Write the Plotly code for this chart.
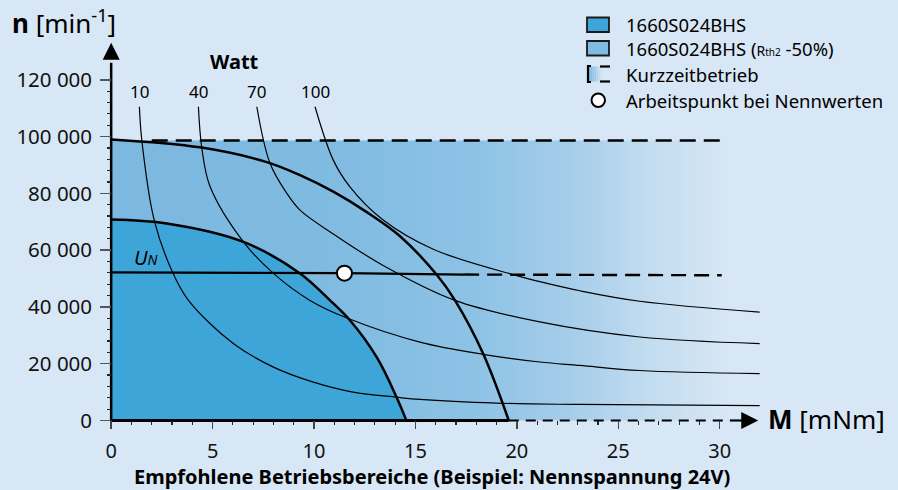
import plotly.graph_objects as go

# ---------------- data ----------------
x_tick_vals = [0, 5, 10, 15, 20, 25, 30]
x_tick_text = ["0", "5", "10", "15", "20", "25", "30"]
x_minor_vals = [v for v in range(0, 31) if v % 5]
y_tick_vals = [0, 20000, 40000, 60000, 80000, 100000, 120000]
y_tick_text = ["0", "20 000", "40 000", "60 000", "80 000", "100 000", "120 000"]
y_minor_vals = [v for v in range(4000, 120000, 4000) if v % 20000]

watt_labels = ["10", "40", "70", "100"]
w10_M = [1.39, 1.51, 2.12, 3.02, 3.81, 6.02, 8.00, 9.97, 11.92, 14.07, 15.22, 19.0, 23.1, 31.97]
w10_n = [110500, 98800, 70600, 52300, 42300, 27100, 18800, 13500, 10000, 8200, 7400, 6100, 5650, 5200]
w40_M = [4.30, 4.47, 4.88, 6.52, 8.00, 9.80, 11.69, 15.22, 18.33, 21.13, 23.10, 26.06, 31.97]
w40_n = [110500, 95900, 82300, 62900, 51800, 42300, 35900, 27600, 23300, 20600, 19400, 17600, 16500]
w70_M = [7.18, 7.83, 8.66, 9.31, 10.95, 13.41, 16.95, 21.13, 26.06, 31.97]
w70_n = [110500, 90600, 80000, 74100, 65700, 54600, 42300, 34700, 29400, 27100]
w100_M = [10.05, 10.95, 11.77, 13.41, 15.88, 19.90, 21.13, 23.10, 26.06, 31.97]
w100_n = [110500, 91700, 82300, 70600, 60300, 51200, 48900, 45700, 42000, 38200]

# 1660S024BHS (dark area)
inner_M = [0, 2.74, 6.52, 9.31, 10.79, 11.77, 13.09, 14.07, 14.55]
inner_n = [70800, 69400, 62900, 51800, 42300, 35300, 22300, 8200, 0]
# 1660S024BHS (Rth2 -50%)
outer_M = [0, 4.38, 7.67, 9.31, 10.95, 12.60, 14.24, 16.04, 16.95, 18.34, 19.60]
outer_n = [99000, 96200, 91000, 86400, 80600, 73400, 64900, 51400, 42300, 23500, 0]

# nominal voltage line U_N
un_solid_M = [0, 11.5, 17.4]
un_solid_n = [52200, 51900, 51400]
un_dash_M = [17.4, 30.1]
un_dash_n = [51400, 51150]

# short-time operation (Kurzzeitbetrieb)
kurz_M = [2.0, 30.1]
kurz_n = [98600, 98600]
kurz_area_M = [0, 30.5]
kurz_area_n = [0, 98600]

# working point at nominal values
work_M = [11.5]
work_n = [51900]

# axis extents
x_axis_solid_M = [0, 19.6]
x_axis_dash_M = [19.6, 30.3]
x_axis_arrow_M = [30.5, 31.3]
x_arrow_tip_M = 31.9
y_axis_top_n = 126000
y_arrow_tip_n = 133000

# ---------------- layout geometry ----------------
L, R, T, B = 99, 16, 23, 61
FW, FH = 898, 490
W = FW - L - R
H = FH - T - B
X_RANGE = [-0.6, 38.0]
Y_RANGE = [-3000, 140000]

BG = "#d8e7f5"
DARK = "#3ea5d9"
MID = "#7fbae1"
FONT = "Noto Sans"


def px(xp):
    return (xp - L) / W


def py(yp):
    return (FH - B - yp) / H


fig = go.Figure()

# gradient area (Kurzzeitbetrieb)
fig.add_trace(go.Scatter(
    x=[kurz_area_M[0], kurz_area_M[1], kurz_area_M[1], kurz_area_M[0], kurz_area_M[0]],
    y=[kurz_area_n[0], kurz_area_n[0], kurz_area_n[1], kurz_area_n[1], kurz_area_n[0]],
    mode="lines", line=dict(width=0), fill="toself",
    fillgradient=dict(type="horizontal", start=kurz_area_M[0], stop=kurz_area_M[1],
                      colorscale=[[0.0, "#7cb8e0"], [0.33, "#7fbae1"], [0.58, "#8cc2e5"],
                                  [0.74, "#a5cdea"], [0.87, "#c2dcf0"], [1.0, BG]]),
    hoverinfo="skip", showlegend=False))

# area under the outer curve for M<2 (above dashed line)
fig.add_trace(go.Scatter(x=outer_M[:2], y=outer_n[:2], mode="lines", line=dict(width=0, shape="spline"),
                         fill="tozeroy", fillcolor="#7cb8e0", hoverinfo="skip", showlegend=False))

# dark area
fig.add_trace(go.Scatter(x=inner_M, y=inner_n, mode="lines", line=dict(width=0, shape="spline"),
                         fill="tozeroy", fillcolor=DARK, hoverinfo="skip", showlegend=False))

# watt curves
watt_series = [(w10_M, w10_n), (w40_M, w40_n), (w70_M, w70_n), (w100_M, w100_n)]
for (mm, nn), lab in zip(watt_series, watt_labels):
    fig.add_trace(go.Scatter(x=mm, y=nn, mode="lines",
                             line=dict(color="black", width=1.2, shape="spline", smoothing=1.0),
                             hoverinfo="skip", showlegend=False))
    fig.add_annotation(x=mm[0], y=nn[0], text=lab, showarrow=False, xanchor="center",
                       yanchor="bottom", yshift=2, font=dict(family=FONT, size=17, color="black"))

# limit curves
fig.add_trace(go.Scatter(x=outer_M, y=outer_n, mode="lines",
                         line=dict(color="black", width=2.5, shape="spline"),
                         hoverinfo="skip", showlegend=False))
fig.add_trace(go.Scatter(x=inner_M, y=inner_n, mode="lines",
                         line=dict(color="black", width=2.5, shape="spline"),
                         hoverinfo="skip", showlegend=False))

# U_N line
fig.add_trace(go.Scatter(x=un_solid_M, y=un_solid_n, mode="lines",
                         line=dict(color="black", width=2.2), hoverinfo="skip", showlegend=False))
fig.add_trace(go.Scatter(x=un_dash_M, y=un_dash_n, mode="lines",
                         line=dict(color="black", width=2.4, dash="15px,8px"),
                         hoverinfo="skip", showlegend=False))
# top dashed line
fig.add_trace(go.Scatter(x=kurz_M, y=kurz_n, mode="lines",
                         line=dict(color="black", width=2.5, dash="16px,8px"),
                         hoverinfo="skip", showlegend=False))

# working point
fig.add_trace(go.Scatter(x=work_M, y=work_n, mode="markers",
                         marker=dict(symbol="circle", size=15, color="white",
                                     line=dict(color="black", width=2)),
                         hoverinfo="skip", showlegend=False, cliponaxis=False))

# axes lines
fig.add_trace(go.Scatter(x=[0, 0], y=[0, y_axis_top_n], mode="lines",
                         line=dict(color="black", width=2.5), hoverinfo="skip", showlegend=False))
fig.add_trace(go.Scatter(x=x_axis_solid_M, y=[0, 0], mode="lines",
                         line=dict(color="black", width=2.8), hoverinfo="skip", showlegend=False))
fig.add_trace(go.Scatter(x=x_axis_dash_M, y=[0, 0], mode="lines",
                         line=dict(color="black", width=2.2, dash="10px,7px"),
                         hoverinfo="skip", showlegend=False))
fig.add_trace(go.Scatter(x=x_axis_arrow_M, y=[0, 0], mode="lines",
                         line=dict(color="black", width=2.2), hoverinfo="skip", showlegend=False))
fig.add_trace(go.Scatter(x=[0], y=[y_arrow_tip_n], mode="markers",
                         marker=dict(symbol="arrow-up", size=17, color="black", line=dict(width=0)),
                         hoverinfo="skip", showlegend=False, cliponaxis=False))
fig.add_trace(go.Scatter(x=[x_arrow_tip_M], y=[0], mode="markers",
                         marker=dict(symbol="arrow-right", size=17, color="black", line=dict(width=0)),
                         hoverinfo="skip", showlegend=False, cliponaxis=False))

# ---------------- text ----------------
def note(xp, yp, text, size, xanchor="left", color="black"):
    fig.add_annotation(x=px(xp), y=py(yp), xref="paper", yref="paper", text=text,
                       showarrow=False, xanchor=xanchor, yanchor="middle",
                       font=dict(family=FONT, size=size, color=color))

note(10, 22, "<b>n</b> [min<sup>-1</sup>]", 26)
note(766, 419, "<b>M</b> [mNm]", 26)
note(234, 61, "<b>Watt</b>", 20, xanchor="center")
note(132, 257, "<i>U<span style='font-size:14px'>N</span></i>", 20)
note(432, 476, "<b>Empfohlene Betriebsbereiche (Beispiel: Nennspannung 24V)</b>", 20, xanchor="center")

# legend
shapes = []
shapes.append(dict(type="rect", xref="paper", yref="paper", x0=px(587), x1=px(609), y0=py(32), y1=py(17.5),
                   fillcolor=DARK, line=dict(color="#1a1a1a", width=1.8)))
shapes.append(dict(type="rect", xref="paper", yref="paper", x0=px(587), x1=px(609), y0=py(55.5), y1=py(41),
                   fillcolor=MID, line=dict(color="#1a1a1a", width=1.8)))
# gradient icon
grad_steps = ["#7cb8e0", "#86bee3", "#93c5e7", "#a2cceb", "#b2d5ee", "#c3ddf1", "#d1e3f4"]
for i, c in enumerate(grad_steps):
    x0 = 588.5 + i * 2.0
    shapes.append(dict(type="rect", xref="paper", yref="paper", x0=px(x0), x1=px(x0 + 2.05),
                       y0=py(81.5), y1=py(66.5), fillcolor=c, line=dict(width=0)))
shapes.append(dict(type="path", xref="paper", yref="paper",
                   path=f"M {px(591)},{py(66)} L {px(588)},{py(66)} L {px(588)},{py(82)} L {px(591)},{py(82)}",
                   line=dict(color="black", width=2.2)))
shapes.append(dict(type="line", xref="paper", yref="paper", x0=px(600), x1=px(610), y0=py(66.5), y1=py(66.5),
                   line=dict(color="black", width=2.2)))
shapes.append(dict(type="line", xref="paper", yref="paper", x0=px(600), x1=px(610), y0=py(81.5), y1=py(81.5),
                   line=dict(color="black", width=2.2)))
shapes.append(dict(type="circle", xref="paper", yref="paper", x0=px(591.5), x1=px(605), y0=py(107), y1=py(93.5),
                   fillcolor="white", line=dict(color="black", width=2)))
fig.update_layout(shapes=shapes)

LEG = 18.5
note(624, 25, "1660S024BHS", LEG)
note(624, 48.5, "1660S024BHS (<span style='font-size:14px'>R</span><span style='font-size:10px'>th2</span> -50%)", LEG)
note(624, 75, "Kurzzeitbetrieb", LEG)
note(624, 100, "Arbeitspunkt bei Nennwerten", LEG)

# ---------------- axes ----------------
fig.update_layout(
    width=FW, height=FH,
    margin=dict(l=L, r=R, t=T, b=B),
    paper_bgcolor=BG, plot_bgcolor=BG,
    font=dict(family=FONT, color="black"),
    showlegend=False,
    hovermode=False,
    xaxis=dict(range=X_RANGE, showgrid=False, zeroline=False, showline=False,
               tickmode="array", tickvals=x_tick_vals, ticktext=x_tick_text,
               ticks="outside", ticklen=8, tickwidth=1.5, tickcolor="#444",
               anchor="free", position=(0 - Y_RANGE[0]) / (Y_RANGE[1] - Y_RANGE[0]),
               ticklabelstandoff=5,
               minor=dict(tickmode="array", tickvals=x_minor_vals, ticks="outside", ticklen=4,
                          tickwidth=1.2, tickcolor="#222"),
               tickfont=dict(family=FONT, size=20, color="#111")),
    yaxis=dict(range=Y_RANGE, showgrid=False, zeroline=False, showline=False,
               tickmode="array", tickvals=y_tick_vals, ticktext=y_tick_text,
               ticks="outside", ticklen=11, tickwidth=1.5, tickcolor="#555",
               anchor="free", position=(0 - X_RANGE[0]) / (X_RANGE[1] - X_RANGE[0]),
               ticklabelstandoff=4,
               minor=dict(tickmode="array", tickvals=y_minor_vals, ticks="outside", ticklen=4,
                          tickwidth=1.2, tickcolor="#222"),
               tickfont=dict(family=FONT, size=20.5, color="#111")),
)

fig.write_html("out.html",
               config={"displayModeBar": False, "staticPlot": True},
               post_script="document.body.style.margin='0px';document.body.style.overflow='hidden';"
                           "document.body.style.background='" + BG + "';")
